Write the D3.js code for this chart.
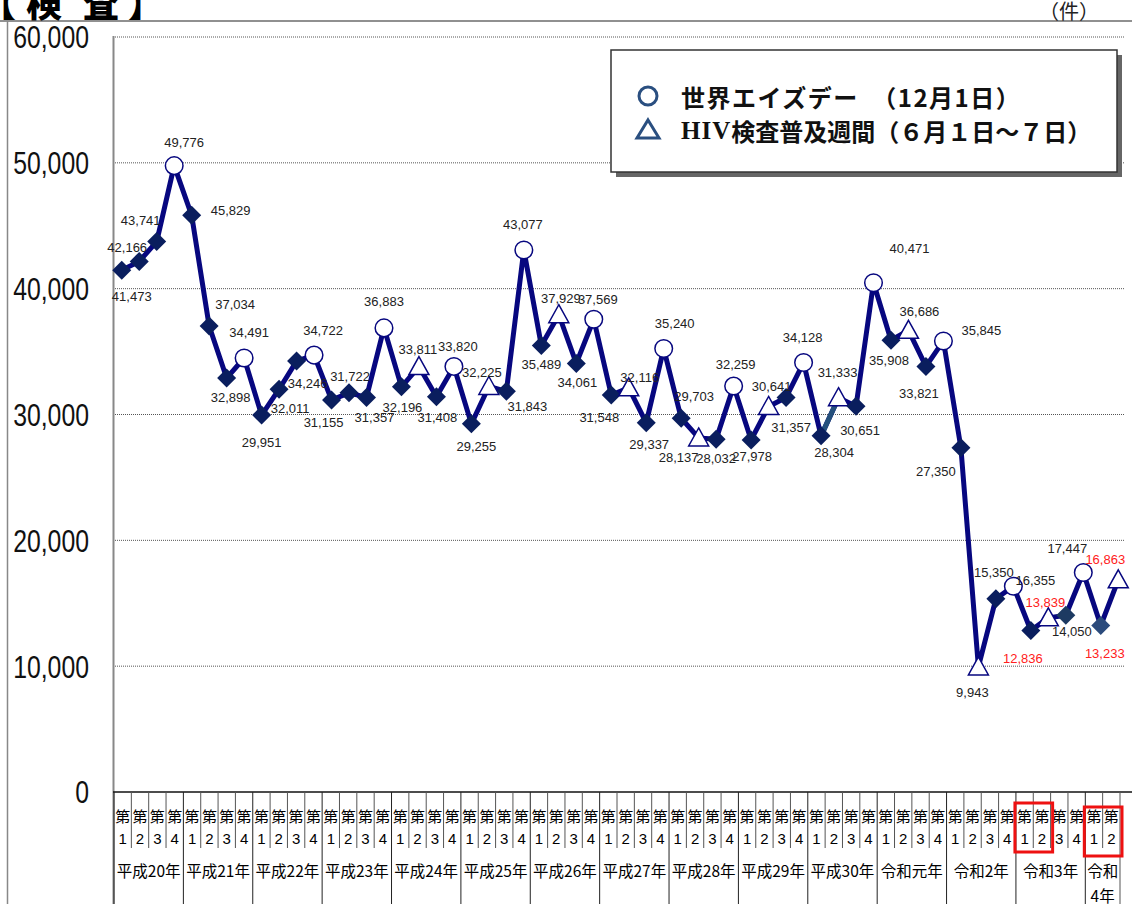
<!DOCTYPE html>
<html>
<head>
<meta charset="utf-8">
<script src="https://cdn.jsdelivr.net/npm/d3@7"></script>
<style>
  body { margin: 0; background: #fff; }
  svg { display: block; }
</style>
</head>
<body>
<div id="chart"></div>
<script>
// ---- data ----
const yearLabels = ["平成20年", "平成21年", "平成22年", "平成23年", "平成24年", "平成25年",
  "平成26年", "平成27年", "平成28年", "平成29年", "平成30年", "令和元年", "令和2年",
  "令和3年", "令和4年"];
const quarterLabels = ["1", "2", "3", "4"];
const quartersInLastYear = 2;

const testCounts = [
  41473, 42166, 43741, 49776,
  45829, 37034, 32898, 34491,
  29951, 32011, 34246, 34722,
  31155, 31722, 31357, 36883,
  32196, 33811, 31408, 33820,
  29255, 32225, 31843, 43077,
  35489, 37929, 34061, 37569,
  31548, 32116, 29337, 35240,
  29703, 28137, 28032, 32259,
  27978, 30641, 31357, 34128,
  28304, 31333, 30651, 40471,
  35908, 36686, 33821, 35845,
  27350, 9943, 15350, 16355,
  12836, 13839, 14050, 17447,
  13233, 16863
];

// d = 通常, c = 世界エイズデー, t = HIV検査普及週間
const markerTypes = [
  "d", "d", "d", "c",
  "d", "d", "d", "c",
  "d", "d", "d", "c",
  "d", "d", "d", "c",
  "d", "t", "d", "c",
  "d", "t", "d", "c",
  "d", "t", "d", "c",
  "d", "t", "d", "c",
  "d", "t", "d", "c",
  "d", "t", "d", "c",
  "d", "t", "d", "c",
  "d", "t", "d", "c",
  "d", "t", "d", "c",
  "d", "t", "d", "c",
  "d", "t"
];

const yTicks = [0, 10000, 20000, 30000, 40000, 50000, 60000];

const legendItems = [
  { type: "c", text: "世界エイズデー　（12月1日）" },
  { type: "t", text: "検査普及週間（６月１日～７日）", prefix: "HIV" }
];

// ---- layout / style ----
const W = 1132, H = 904;
const navy = "#07077f";
const diamondFill = "#0a1e5e";
const symbolBlue = "#2a4f80";
const redIdx = new Set([52, 53, 56, 57]);
const diamondOverride = { 54: "#1d3a62", 56: "#2b4b7c" };
const altSegment = { from: 40, color: "#25507c" };

// label offsets from each point (dx, dy)
const labelNudge = [
  [10, 26], [-12, -14], [-16, -21], [10, -23],
  [39, -5], [26, -21], [4, 19], [5, -25],
  [0, 27], [11, 19], [11, 22], [9, -25],
  [-8, 23], [1, -16], [8, 20], [0, -26],
  [1, 21], [-1, -17], [1, 21], [4, -20],
  [5, 23], [-7, -14], [21, 15], [-1, -25],
  [0, 19], [2, -16], [1, 19], [4, -20],
  [-12, 22], [11, -10], [3, 22], [11, -25],
  [13, -22], [-20, 20], [0, 19], [2, -22],
  [1, 17], [3, -20], [5, 30], [-1, -25],
  [13, 17], [-1, -25], [4, 24], [36, -34],
  [-2, 20], [11, -19], [-7, 27], [38, -10],
  [-25, 24], [-6, 26], [-2, -26], [22, -6],
  [-8, 28], [-3, -15], [6, 16], [-16, -24],
  [4, 28], [-13, -20]
];

const redBoxes = [
  { from: 52, to: 53, top: 803, bottom: 852 },
  { from: 56, to: 57, top: 807, bottom: 856 }
];

const jp = "'Noto Sans CJK JP', sans-serif";
const latin = "'Liberation Sans', Arial, sans-serif";

const categories = yearLabels.flatMap((y, yi) =>
  (yi === yearLabels.length - 1 ? quarterLabels.slice(0, quartersInLastYear) : quarterLabels)
    .map(q => ({ key: y + "-" + q, year: y, q })));
const keys = categories.map(c => c.key);

const svg = d3.select("#chart").append("svg")
  .attr("width", W).attr("height", H);

const x = d3.scaleBand().domain(keys).range([113, 1127]);
const tableX = d3.scaleBand().domain(keys).range([114, 1120]);
const y = d3.scaleLinear().domain([0, 60000]).range([792, 37]);
const cx = i => x(keys[i]) + x.bandwidth() / 2;

// frame lines
svg.append("line").attr("x1", 0).attr("x2", W).attr("y1", 21).attr("y2", 21)
  .attr("stroke", "#222").attr("stroke-width", 1.2);
svg.append("line").attr("x1", 7.5).attr("x2", 7.5).attr("y1", 21).attr("y2", H)
  .attr("stroke", "#888").attr("stroke-width", 1.5);

// title and unit
const titleChars = [["【", -20, "start"], ["検", 44, "middle"], ["査", 101, "middle"], ["】", 128, "start"]];
svg.selectAll(".title").data(titleChars).join("text")
  .attr("x", d => d[1]).attr("y", 17)
  .attr("text-anchor", d => d[2])
  .style("font-family", jp).style("font-weight", 900).style("font-size", "36px")
  .text(d => d[0]);
svg.append("text").attr("x", 1069).attr("y", 19).attr("text-anchor", "middle")
  .style("font-family", jp).style("font-size", "20px").attr("fill", "#222").text("（件）");

// grid
svg.selectAll(".grid").data(yTicks.filter(v => v > 0)).join("line")
  .attr("x1", 113).attr("x2", 1125)
  .attr("y1", d => y(d)).attr("y2", d => y(d))
  .attr("stroke", "#555").attr("stroke-width", 1)
  .attr("stroke-dasharray", "1,1");

// y axis
const yAxis = svg.append("g").attr("transform", "translate(113,0)")
  .call(d3.axisLeft(y).tickValues(yTicks).tickSize(0).tickPadding(24).tickFormat(d3.format(",")));
yAxis.select(".domain").remove();
yAxis.selectAll("text")
  .style("font-family", latin).style("font-size", "31px").attr("fill", "#111")
  .attr("dy", "0.35em")
  .each(function () {
    d3.select(this).attr("textLength", this.getComputedTextLength() * 0.8)
      .attr("lengthAdjust", "spacingAndGlyphs");
  });
svg.append("line").attr("x1", 113.5).attr("x2", 113.5).attr("y1", 36).attr("y2", H)
  .attr("stroke", "#888").attr("stroke-width", 2);

// category table
svg.append("line").attr("x1", 113).attr("x2", W).attr("y1", 792).attr("y2", 792)
  .attr("stroke", "#111").attr("stroke-width", 1.5);

const bw = tableX.bandwidth();
const yearStart = new Set(categories.map((c, i) => i).filter(i => i === 0 || categories[i].year !== categories[i - 1].year));
const edges = d3.range(keys.length + 1);
svg.selectAll(".qline").data(edges).join("line")
  .attr("x1", i => (i < keys.length ? tableX(keys[i]) : tableX(keys[i - 1]) + bw))
  .attr("x2", i => (i < keys.length ? tableX(keys[i]) : tableX(keys[i - 1]) + bw))
  .attr("y1", 792)
  .attr("y2", i => (yearStart.has(i) || i === keys.length ? H : 848))
  .attr("stroke", i => (yearStart.has(i) ? "#222" : "#555"))
  .attr("stroke-width", 1);

svg.selectAll(".dai").data(categories).join("text")
  .attr("x", (d, i) => tableX(keys[i]) + bw / 2).attr("y", 815)
  .attr("text-anchor", "middle").attr("dominant-baseline", "central")
  .style("font-family", jp).style("font-size", "15px").text("第");
svg.selectAll(".qnum").data(categories).join("text")
  .attr("x", (d, i) => tableX(keys[i]) + bw / 2).attr("y", 838)
  .attr("text-anchor", "middle").attr("dominant-baseline", "central")
  .style("font-family", latin).style("font-size", "15px").text(d => d.q);

const yearGroups = d3.groups(categories.map((c, i) => ({ ...c, i })), d => d.year);
yearGroups.forEach(([label, items]) => {
  const x0 = tableX(keys[items[0].i]);
  const x1 = tableX(keys[items[items.length - 1].i]) + bw;
  const mid = (x0 + x1) / 2;
  const lines = (x1 - x0) < 50 ? [label.slice(0, 2), label.slice(2)] : [label];
  lines.forEach((t, li) => {
    svg.append("text").attr("x", mid).attr("y", 870 + li * 25)
      .attr("text-anchor", "middle").attr("dominant-baseline", "central")
      .style("font-family", jp).style("font-size", "15.5px").text(t);
  });
});

svg.selectAll(".redbox").data(redBoxes).join("rect")
  .attr("x", d => tableX(keys[d.from]) - 1)
  .attr("y", d => d.top)
  .attr("width", d => tableX(keys[d.to]) + bw - tableX(keys[d.from]) + 3)
  .attr("height", d => d.bottom - d.top)
  .attr("fill", "none").attr("stroke", "#ee1111").attr("stroke-width", 3);

// series line
const line = d3.line().x((d, i) => cx(i)).y(d => y(d));
svg.append("path").datum(testCounts)
  .attr("d", line)
  .attr("fill", "none").attr("stroke", navy).attr("stroke-width", 5)
  .attr("stroke-linejoin", "round");
svg.append("line")
  .attr("x1", cx(altSegment.from)).attr("y1", y(testCounts[altSegment.from]))
  .attr("x2", cx(altSegment.from + 1)).attr("y2", y(testCounts[altSegment.from + 1]))
  .attr("stroke", altSegment.color).attr("stroke-width", 5);

// markers
const pts = svg.append("g");
testCounts.forEach((v, i) => {
  const px = cx(i), py = y(v), t = markerTypes[i];
  if (t === "d") {
    const s = 9.5;
    pts.append("path")
      .attr("d", `M${px},${py - s}L${px + s},${py}L${px},${py + s}L${px - s},${py}Z`)
      .attr("fill", diamondOverride[i] || diamondFill);
  } else if (t === "c") {
    pts.append("circle").attr("cx", px).attr("cy", py).attr("r", 8.8)
      .attr("fill", "#fff").attr("stroke", navy).attr("stroke-width", 1.5);
  } else {
    pts.append("path")
      .attr("d", `M${px},${py - 10}L${px + 10},${py + 8}L${px - 10},${py + 8}Z`)
      .attr("fill", "#fff").attr("stroke", navy).attr("stroke-width", 1.5);
  }
});

// value labels
svg.append("g").selectAll("text").data(testCounts).join("text")
  .attr("x", (d, i) => cx(i) + labelNudge[i][0])
  .attr("y", (d, i) => y(d) + labelNudge[i][1])
  .attr("text-anchor", "middle").attr("dominant-baseline", "central")
  .style("font-family", latin).style("font-size", "13px")
  .attr("fill", (d, i) => (redIdx.has(i) ? "#ff2020" : "#222"))
  .text(d => d3.format(",")(d));

// legend
const lg = svg.append("g");
lg.append("rect").attr("x", 616).attr("y", 55).attr("width", 506).attr("height", 122).attr("fill", "#666");
lg.append("rect").attr("x", 611).attr("y", 50).attr("width", 506).attr("height", 122)
  .attr("fill", "#fff").attr("stroke", "#333").attr("stroke-width", 1.5);
legendItems.forEach((d, i) => {
  const ly = 96 + i * 34;
  if (d.type === "c") {
    lg.append("circle").attr("cx", 648).attr("cy", ly).attr("r", 9)
      .attr("fill", "none").attr("stroke", symbolBlue).attr("stroke-width", 3);
  } else {
    lg.append("path").attr("d", `M648,${ly - 10}L659,${ly + 8}L637,${ly + 8}Z`)
      .attr("fill", "none").attr("stroke", symbolBlue).attr("stroke-width", 3);
  }
  const t = lg.append("text").attr("x", 681).attr("y", ly).attr("dominant-baseline", "central")
    .style("font-family", jp).style("font-weight", 700).style("font-size", "24px").attr("fill", "#111");
  if (d.prefix) {
    t.append("tspan").style("font-family", "'Liberation Serif', serif").style("font-size", "25px")
      .style("letter-spacing", "1px").text(d.prefix);
    t.append("tspan").text(d.text);
  } else {
    t.style("letter-spacing", "1.5px").text(d.text);
  }
});
</script>
</body>
</html>
